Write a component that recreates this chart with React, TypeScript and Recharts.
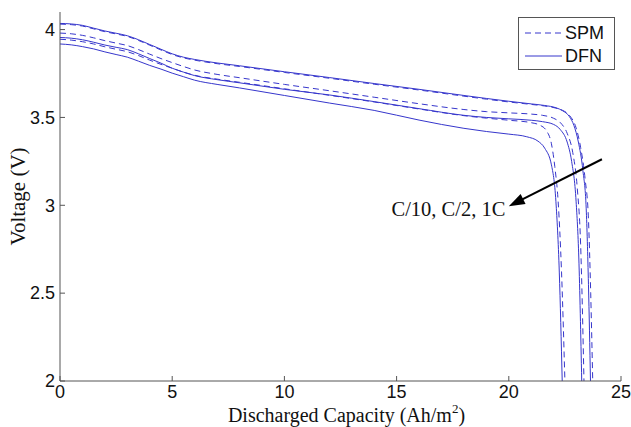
import React from 'react';
import { LineChart, Line, XAxis, YAxis, Legend, ReferenceLine, ReferenceDot, Label } from 'recharts';

// ---------- data ----------
const xTicks = [0, 5, 10, 15, 20, 25];
const yTicks = [2, 2.5, 3, 3.5, 4];
const legendLabels = ['SPM', 'DFN'];
const annotationText = 'C/10, C/2, 1C';
const arrowFrom = [24.15, 3.262];
const arrowTo = [20.0, 2.995];
const annotationAt = [19.85, 2.94];

const plateauX = [0, 0.5, 1, 1.5, 2, 2.5, 3, 3.5, 4, 4.5, 5, 5.5, 6, 7, 8, 10, 12, 14, 16, 18, 19, 20, 21];

// DFN C/10
const dfnC10X = [...plateauX, 21.6, 22.1, 22.4, 22.7, 22.9, 23.1, 23.3, 23.45, 23.55, 23.64];
const dfnC10V = [4.035, 4.032, 4.024, 4.008, 3.992, 3.979, 3.965, 3.942, 3.915, 3.888, 3.862, 3.843, 3.83, 3.81, 3.794, 3.76, 3.727, 3.693, 3.66, 3.625, 3.608, 3.592, 3.577,
  3.568, 3.555, 3.538, 3.505, 3.455, 3.36, 3.2, 2.98, 2.55, 2.0];

// SPM C/10
const spmC10X = [...plateauX, 21.6, 22.1, 22.4, 22.7, 23.0, 23.2, 23.4, 23.55, 23.65, 23.74];
const spmC10V = [4.031, 4.028, 4.02, 4.004, 3.988, 3.975, 3.961, 3.938, 3.911, 3.884, 3.858, 3.839, 3.826, 3.806, 3.79, 3.756, 3.723, 3.689, 3.656, 3.621, 3.604, 3.588, 3.574,
  3.565, 3.553, 3.54, 3.512, 3.44, 3.33, 3.15, 2.92, 2.5, 2.0];

// DFN C/2
const dfnC2X = [...plateauX, 21.5, 22, 22.3, 22.6, 22.8, 23.0, 23.12, 23.25];
const dfnC2V = [3.955, 3.951, 3.942, 3.928, 3.912, 3.899, 3.886, 3.862, 3.835, 3.809, 3.78, 3.758, 3.738, 3.715, 3.697, 3.66, 3.628, 3.59, 3.55, 3.512, 3.5, 3.492, 3.484,
  3.476, 3.46, 3.43, 3.36, 3.25, 3.02, 2.7, 2.0];

// SPM C/2
const spmC2X = [...plateauX, 21.5, 22, 22.3, 22.6, 22.85, 23.05, 23.2, 23.35];
const spmC2V = [3.98, 3.976, 3.967, 3.953, 3.937, 3.923, 3.909, 3.886, 3.86, 3.835, 3.812, 3.79, 3.77, 3.745, 3.726, 3.688, 3.652, 3.615, 3.578, 3.545, 3.533, 3.526, 3.519,
  3.512, 3.495, 3.47, 3.41, 3.3, 3.1, 2.78, 2.0];

// DFN 1C
const dfn1CX = [0, 0.5, 1, 1.5, 2, 2.5, 3, 3.5, 4, 4.5, 5, 5.5, 6, 7, 8, 10, 12, 14, 16, 18, 19, 20, 20.8, 21.3, 21.6, 21.9, 22.1, 22.25, 22.38];
const dfn1CV = [3.918, 3.913, 3.903, 3.89, 3.873, 3.858, 3.843, 3.82, 3.796, 3.775, 3.752, 3.732, 3.712, 3.688, 3.668, 3.625, 3.582, 3.54, 3.485, 3.438, 3.42, 3.405,
  3.39, 3.365, 3.325, 3.23, 3.02, 2.62, 2.0];

// SPM 1C
const spm1CX = [...plateauX, 21.4, 21.7, 21.9, 22.05, 22.2, 22.35, 22.5];
const spm1CV = [3.945, 3.94, 3.931, 3.918, 3.902, 3.888, 3.874, 3.852, 3.826, 3.802, 3.78, 3.758, 3.74, 3.718, 3.7, 3.663, 3.626, 3.588, 3.548, 3.51, 3.496, 3.484, 3.47,
  3.455, 3.42, 3.35, 3.22, 3.02, 2.62, 2.0];

const toPoints = (xs: number[], vs: number[]) => xs.map((x, i) => ({ x, v: vs[i] }));

const series = [
  { name: 'DFN C/10', xs: dfnC10X, vs: dfnC10V, dashed: false },
  { name: 'DFN C/2', xs: dfnC2X, vs: dfnC2V, dashed: false },
  { name: 'DFN 1C', xs: dfn1CX, vs: dfn1CV, dashed: false },
  { name: 'SPM C/10', xs: spmC10X, vs: spmC10V, dashed: true },
  { name: 'SPM C/2', xs: spmC2X, vs: spmC2V, dashed: true },
  { name: 'SPM 1C', xs: spm1CX, vs: spm1CV, dashed: true },
];

// ---------- styles ----------
const LINE = '#3636cc';
const AX = '#555555';
const SANS = '"Liberation Sans", Arial, Helvetica, sans-serif';
const SERIF = '"Liberation Serif", "Times New Roman", Times, serif';
const TICK_FS = 18;
const TICK_LEN = 5;

const BottomTick = (p: any) => (
  <g>
    <line x1={p.x} x2={p.x} y1={p.y} y2={p.y - TICK_LEN} stroke={AX} />
    <text x={p.x} y={p.y + 17} textAnchor="middle" fontFamily={SANS} fontSize={TICK_FS} fill="#111">
      {p.payload.value}
    </text>
  </g>
);
const TopTick = (p: any) => (
  <line x1={p.x} x2={p.x} y1={p.y} y2={p.y + TICK_LEN} stroke={AX} />
);
const LeftTick = (p: any) => (
  <g>
    <line x1={p.x} x2={p.x + TICK_LEN} y1={p.y} y2={p.y} stroke={AX} />
    <text x={p.x - 5} y={p.y} dy="0.35em" textAnchor="end" fontFamily={SANS} fontSize={TICK_FS} fill="#111">
      {p.payload.value}
    </text>
  </g>
);
const RightTick = (p: any) => (
  <line x1={p.x} x2={p.x - TICK_LEN} y1={p.y} y2={p.y} stroke={AX} />
);

const XTitle = (p: any) => {
  const vb = p.viewBox;
  const cx = vb.x + vb.width / 2 + 6;
  return (
    <text x={cx} y={vb.y + 41} textAnchor="middle" fontFamily={SERIF} fontSize={20} fill="#111">
      Discharged Capacity (Ah/m
      <tspan dy={-9} fontSize={13}>2</tspan>
      <tspan dy={9}>)</tspan>
    </text>
  );
};
const YTitle = (p: any) => {
  const vb = p.viewBox;
  const cy = vb.y + vb.height / 2;
  const x = 25;
  return (
    <text x={x} y={cy} transform={`rotate(-90, ${x}, ${cy})`} textAnchor="middle" fontFamily={SERIF} fontSize={21} fill="#111">
      Voltage (V)
    </text>
  );
};

const ArrowShape = (p: any) => {
  const { x1, y1, x2, y2 } = p;
  const dx = x2 - x1, dy = y2 - y1;
  const len = Math.sqrt(dx * dx + dy * dy) || 1;
  const ux = dx / len, uy = dy / len;
  const hl = 16, hw = 5.5;
  const bx = x2 - ux * hl, by = y2 - uy * hl;
  const pts = `${x2},${y2} ${bx - uy * hw},${by + ux * hw} ${bx + uy * hw},${by - ux * hw}`;
  return (
    <g>
      <line x1={x1} y1={y1} x2={bx + ux * 2} y2={by + uy * 2} stroke="#000" strokeWidth={2} />
      <polygon points={pts} fill="#000" />
    </g>
  );
};

const TextShape = (p: any) => (
  <text x={p.cx} y={p.cy} textAnchor="end" fontFamily={SERIF} fontSize={20.5} fill="#111">
    {annotationText}
  </text>
);

const LegendBox = () => (
  <div style={{ position: 'relative', width: 97, height: 53, boxSizing: 'border-box', border: `1px solid ${AX}`, background: '#fff' }}>
    {legendLabels.map((lab, i) => (
      <div key={lab} style={{ position: 'absolute', left: 0, top: i * 23, height: 26, width: 95 }}>
        <svg width={40} height={26} style={{ position: 'absolute', left: 5, top: 0 }}>
          <line x1={1} x2={38} y1={15} y2={15} stroke={LINE} strokeWidth={1} strokeDasharray={lab === 'SPM' ? '6 4' : undefined} />
        </svg>
        <span style={{ position: 'absolute', left: 46, top: 5, fontFamily: SANS, fontSize: 18, lineHeight: '20px', color: '#111' }}>{lab}</span>
      </div>
    ))}
  </div>
);

export default function App() {
  return (
    <div style={{ position: 'absolute', left: 0, top: 0, width: 631, height: 427, background: '#fff' }}>
      <style>{'body{margin:0;}'}</style>
      <LineChart width={631} height={427} margin={{ top: 12, right: 10, left: 0, bottom: 0 }}>
        <XAxis dataKey="x" type="number" domain={[0, 25]} ticks={xTicks} interval={0} allowDataOverflow
          height={46} tickSize={0} tickMargin={0} tickLine={false} axisLine={{ stroke: AX }} tick={BottomTick}>
          <Label content={XTitle} />
        </XAxis>
        <XAxis xAxisId="top" orientation="top" type="number" domain={[0, 25]} ticks={xTicks} interval={0} allowDataOverflow
          height={0} tickSize={0} tickMargin={0} tickLine={false} axisLine={{ stroke: AX }} tick={TopTick} />
        <YAxis type="number" domain={[2, 4.1]} ticks={yTicks} interval={0} allowDataOverflow
          width={60} tickSize={0} tickMargin={0} tickLine={false} axisLine={{ stroke: AX }} tick={LeftTick}>
          <Label content={YTitle} />
        </YAxis>
        <YAxis yAxisId="right" orientation="right" type="number" domain={[2, 4.1]} ticks={yTicks} interval={0} allowDataOverflow
          width={0} tickSize={0} tickMargin={0} tickLine={false} axisLine={{ stroke: AX }} tick={RightTick} />
        {series.map((s) => (
          <Line key={s.name} name={s.name} data={toPoints(s.xs, s.vs)} dataKey="v" type="monotone"
            stroke={LINE} strokeWidth={1} strokeDasharray={s.dashed ? '6 4' : undefined}
            dot={false} activeDot={false} isAnimationActive={false} legendType="none" />
        ))}
        <ReferenceLine segment={[{ x: arrowFrom[0], y: arrowFrom[1] }, { x: arrowTo[0], y: arrowTo[1] }]}
          shape={ArrowShape} ifOverflow="visible" />
        <ReferenceDot x={annotationAt[0]} y={annotationAt[1]} r={0} shape={TextShape} ifOverflow="visible" />
        <Legend layout="vertical" align="center" verticalAlign="middle"
          wrapperStyle={{ top: 17, left: 518, width: 97, height: 53 }} content={LegendBox} />
      </LineChart>
    </div>
  );
}
